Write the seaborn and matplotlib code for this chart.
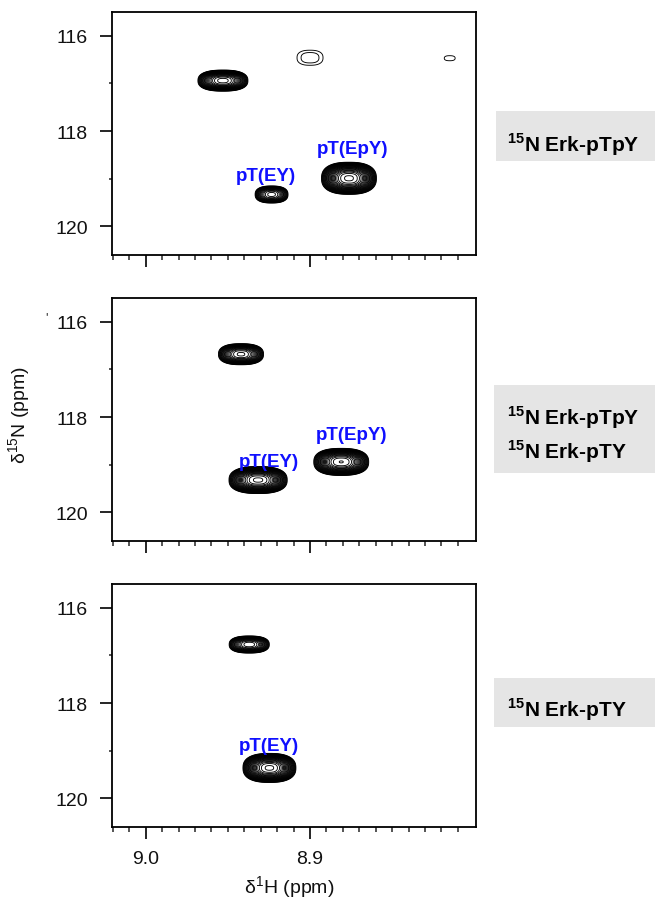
import numpy as np
import seaborn as sns
import matplotlib.pyplot as plt
from matplotlib.patches import Rectangle

sns.set_style("ticks")
plt.rcParams['font.family'] = ['Liberation Sans', 'DejaVu Sans']
plt.rcParams['mathtext.fontset'] = 'custom'
plt.rcParams['mathtext.rm'] = 'Liberation Sans'
plt.rcParams['mathtext.bf'] = 'Liberation Sans:bold'

# peak tables (1H ppm, 15N ppm, half widths, relative height)
p1_h = [8.953, 8.900, 8.815, 8.9234, 8.8763]
p1_n = [116.94, 116.46, 116.47, 119.33, 118.99]
p1_wh = [0.0152, 0.0079, 0.0033, 0.0100, 0.0167]
p1_wn = [0.221, 0.158, 0.053, 0.179, 0.337]
p1_amp = [60, 1.35, 1.1, 20, 100]

p2_h = [8.942, 8.9316, 8.881]
p2_n = [116.68, 119.32, 118.94]
p2_wh = [0.0137, 0.0177, 0.0167]
p2_wn = [0.221, 0.284, 0.284]
p2_amp = [40, 100, 80]

p3_h = [8.937, 8.9247]
p3_n = [116.77, 119.36]
p3_wh = [0.0122, 0.0161]
p3_wn = [0.179, 0.305]
p3_amp = [30, 100]

labels1 = ['pT(EY)', 'pT(EpY)']
labels1_h = [8.927, 8.874]
labels1_n = [118.93, 118.36]
labels2_h = [8.925, 8.875]
labels2_n = [118.93, 118.36]
labels3 = ['pT(EY)']
labels3_h = [8.925]
labels3_n = [118.88]

samples = [[r'$^{\mathbf{15}}$N Erk-pTpY'],
           [r'$^{\mathbf{15}}$N Erk-pTpY', r'$^{\mathbf{15}}$N Erk-pTY'],
           [r'$^{\mathbf{15}}$N Erk-pTY']]

yticks = [116, 118, 120]
xticks = [9.0, 8.9]
xticklabels = ['9.0', '8.9']


def spectrum(hs, ns, whs, wns, amps, X, Y):
    # slightly flat-topped peaks -> oval contours like the scanned spectra
    p = 2.5
    Z = np.zeros_like(X)
    for h, n, wh, wn, a in zip(hs, ns, whs, wns, amps):
        r = np.log(a) ** (1 / p)
        sx, sy = wh / r, wn / r
        Z += a * np.exp(-np.abs((X - h) / sx) ** p - np.abs((Y - n) / sy) ** p)
    return Z


fig = plt.figure(figsize=(6.55, 9.04), dpi=100)
W, H = 655, 904
left, right = 112, 476
tops = [13, 299, 585]
ph = 243

hgrid = np.linspace(8.79, 9.03, 800)
ngrid = np.linspace(115.3, 120.8, 800)
X, Y = np.meshgrid(hgrid, ngrid)
levels = 1.0 * 1.2 ** np.arange(32)

peaks = [(p1_h, p1_n, p1_wh, p1_wn, p1_amp),
         (p2_h, p2_n, p2_wh, p2_wn, p2_amp),
         (p3_h, p3_n, p3_wh, p3_wn, p3_amp)]
annots = [(labels1, labels1_h, labels1_n),
          (labels1, labels2_h, labels2_n),
          (labels3, labels3_h, labels3_n)]

axes = []
for i, top in enumerate(tops):
    ax = fig.add_axes([left / W, 1 - (top + ph) / H, (right - left) / W, ph / H])
    axes.append(ax)
    Z = spectrum(*peaks[i], X, Y)
    ax.contour(X, Y, Z, levels=levels, colors='black', linewidths=0.65)
    for txt, h, n in zip(*annots[i]):
        ax.text(h, n, txt, color='#1010ff', fontsize=13.5, fontweight='bold',
                ha='center', va='center')
    ax.set_xlim(9.0205, 8.799)
    ax.set_ylim(120.6, 115.5)
    ax.set_yticks(yticks)
    ax.set_yticks([117, 119], minor=True)
    ax.set_xticks(xticks)
    ax.set_xticks(np.arange(8.81, 9.021, 0.01), minor=True)
    for s in ax.spines.values():
        s.set_linewidth(1.3)
        s.set_color('black')
    ax.tick_params(axis='both', which='major', length=8.5, width=1.2,
                   labelsize=14, color='black', labelcolor='#111111')
    ax.tick_params(axis='y', which='major', pad=9)
    ax.tick_params(axis='x', which='major', pad=8)
    ax.tick_params(axis='x', which='minor', length=3.6, width=1.1)
    ax.tick_params(axis='y', which='minor', length=2.5, width=1.1)
    ax.tick_params(top=False, right=False)
    if i < 2:
        ax.set_xticklabels([])
    else:
        ax.set_xticklabels(xticklabels)

# grey sample boxes on the right
boxes = [(496, 112, 162, [152]), (494, 386, 474, [425, 459]), (494, 679, 728, [717])]
for (bx, by0, by1, bases), lines in zip(boxes, samples):
    fig.patches.append(Rectangle((bx / W, 1 - by1 / H), (W - bx) / W, (by1 - by0) / H,
                                 transform=fig.transFigure, facecolor='#e5e5e5',
                                 edgecolor='none', zorder=0))
    for txt, b in zip(lines, bases):
        fig.text(507 / W, 1 - b / H, txt, fontsize=15, fontweight='bold',
                 ha='left', va='baseline', color='black')

fig.text(20 / W, 1 - 415 / H, r'$\mathrm{\delta}^{15}$N (ppm)', rotation=90,
         fontsize=14, ha='center', va='center', color='#111111')
fig.text(289 / W, 1 - 888 / H, r'$\mathrm{\delta}^{1}$H (ppm)',
         fontsize=14, ha='center', va='center', color='#111111')
fig.text(47 / W, 1 - 318 / H, "'", fontsize=9, ha='center', va='center')

fig.savefig('out.png', dpi=100)
